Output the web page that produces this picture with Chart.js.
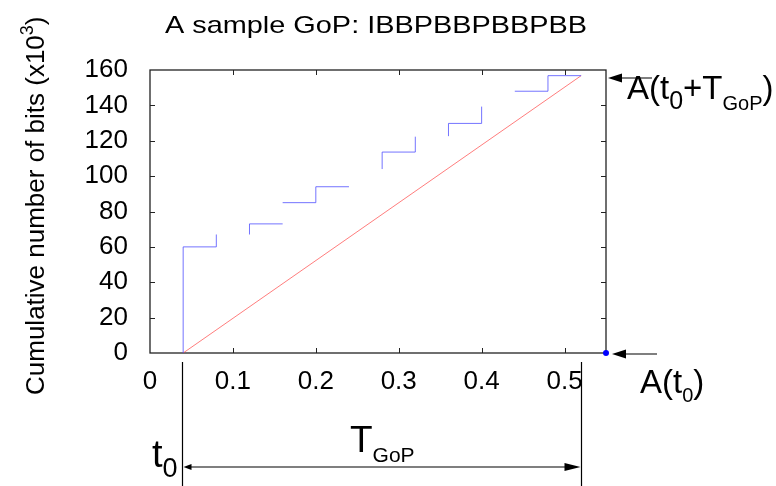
<!DOCTYPE html>
<html>
<head>
<meta charset="utf-8">
<script src="https://cdn.jsdelivr.net/npm/chart.js@4.4.1/dist/chart.umd.min.js"></script>
<style>
  html, body { margin: 0; padding: 0; background: #fff; }
  canvas { display: block; }
</style>
</head>
<body>
<canvas id="chart" width="776" height="486"></canvas>
<script>
// tick values
const xTicks = [0, 0.1, 0.2, 0.3, 0.4, 0.5];
const yTicks = [0, 20, 40, 60, 80, 100, 120, 140, 160];

// cumulative bits staircase (null = break in the trace)
const stepX = [0.04, 0.04, 0.08, 0.08, null, 0.12, 0.12, 0.16, null, 0.16, 0.20, 0.20, 0.24, null,
  0.28, 0.28, 0.32, 0.32, null, 0.36, 0.36, 0.40, 0.40, null, 0.44, 0.48, 0.48, 0.52];
const stepY = [0, 60, 60, 67, null, 67, 73, 73, null, 85, 85, 94, 94, null,
  104, 113.6, 113.6, 122.3, null, 122.6, 129.8, 129.8, 139.3, null, 148, 148, 156.8, 156.8];

// constant-rate line from A(t0) to A(t0+TGoP)
const rateX = [0.04, 0.52];
const rateY = [0, 156.8];

// marker at the right end of the axis
const dotX = [0.55];
const dotY = [0];

const toPoints = (xs, ys) => xs.map((v, i) => ({ x: v, y: ys[i] }));

const FONT = "'Liberation Sans', Arial, sans-serif";

// draw a run of text pieces, some as sub/superscript
const drawParts = (ctx, parts, x, y) => {
  let cx = x;
  parts.forEach((p) => {
    ctx.font = p.size + "px " + FONT;
    ctx.fillText(p.t, cx, y + (p.dy || 0));
    cx += ctx.measureText(p.t).width;
  });
};

const arrowHead = (ctx, x, y, dir, len, hw) => {
  ctx.beginPath();
  ctx.moveTo(x, y);
  ctx.lineTo(x - dir * len, y - hw);
  ctx.lineTo(x - dir * len, y + hw);
  ctx.closePath();
  ctx.fill();
};

const framePlugin = {
  id: "frame",
  beforeDatasetsDraw(chart) {
    const { ctx, chartArea: a, scales } = chart;
    ctx.save();
    ctx.strokeStyle = "#222";
    ctx.lineWidth = 1.3;
    ctx.strokeRect(a.left, a.top, a.right - a.left, a.bottom - a.top);
    ctx.lineWidth = 1;
    ctx.beginPath();
    xTicks.forEach((v) => {
      const px = Math.round(scales.x.getPixelForValue(v)) + 0.5;
      if (px <= a.left + 1) return;
      ctx.moveTo(px, a.bottom); ctx.lineTo(px, a.bottom - 5);
      ctx.moveTo(px, a.top); ctx.lineTo(px, a.top + 5);
    });
    yTicks.forEach((v) => {
      const py = Math.round(scales.y.getPixelForValue(v)) + 0.5;
      if (py <= a.top + 1 || py >= a.bottom - 1) return;
      ctx.moveTo(a.left, py); ctx.lineTo(a.left + 5, py);
      ctx.moveTo(a.right, py); ctx.lineTo(a.right - 5, py);
    });
    ctx.stroke();
    ctx.restore();
  },
  afterDraw(chart) {
    const { ctx, chartArea: a, scales } = chart;
    ctx.save();
    ctx.fillStyle = "#000";
    ctx.strokeStyle = "#000";
    ctx.textBaseline = "alphabetic";

    // title, stretched a little wider like the original
    ctx.font = "24px " + FONT;
    const title = "A sample GoP: IBBPBBPBBPBB";
    const tw = ctx.measureText(title).width;
    ctx.save();
    ctx.translate(165, 33);
    ctx.scale(422 / tw, 1);
    ctx.fillText(title, 0, 0);
    ctx.restore();

    // y axis title with superscript
    ctx.save();
    ctx.translate(44, 395);
    ctx.rotate(-Math.PI / 2);
    drawParts(ctx, [
      { t: "Cumulative number of bits (x10", size: 26 },
      { t: "3", size: 18, dy: -11 },
      { t: ")", size: 26 },
    ], 0, 0);
    ctx.restore();

    // arrows pointing at the axis on the right
    ctx.lineWidth = 1.2;
    ctx.beginPath();
    ctx.moveTo(652, 78); ctx.lineTo(615, 78);
    ctx.moveTo(657, 354); ctx.lineTo(620, 354);
    ctx.stroke();
    arrowHead(ctx, 608, 78, -1, 14, 4.5);
    arrowHead(ctx, 612, 354, -1, 14, 4.5);

    drawParts(ctx, [
      { t: "A(t", size: 33 },
      { t: "0", size: 25, dy: 10 },
      { t: "+T", size: 33 },
      { t: "GoP", size: 20, dy: 11 },
      { t: ")", size: 33 },
    ], 627, 99);

    drawParts(ctx, [
      { t: "A(t", size: 33 },
      { t: "0", size: 20, dy: 9 },
      { t: ")", size: 33 },
    ], 640, 393);

    // GoP span below the axis
    const x0 = Math.round(scales.x.getPixelForValue(rateX[0])) - 0.5;
    const x1 = Math.round(scales.x.getPixelForValue(rateX[1])) + 0.5;
    ctx.lineWidth = 1.2;
    ctx.beginPath();
    ctx.moveTo(x0, 362); ctx.lineTo(x0, 486);
    ctx.moveTo(x1, 362); ctx.lineTo(x1, 486);
    ctx.moveTo(x0 + 4, 467); ctx.lineTo(x1 - 10, 467);
    ctx.stroke();
    arrowHead(ctx, x0 + 1, 467, -1, 8, 3);
    arrowHead(ctx, x1 - 1, 467, 1, 16, 4);

    drawParts(ctx, [
      { t: "t", size: 38 },
      { t: "0", size: 27, dy: 10 },
    ], 152, 467);

    drawParts(ctx, [
      { t: "T", size: 37 },
      { t: "GoP", size: 21, dy: 10 },
    ], 350, 452);

    ctx.restore();
  },
};

new Chart(document.getElementById("chart"), {
  type: "scatter",
  data: {
    datasets: [
      {
        data: toPoints(stepX, stepY),
        showLine: true,
        borderColor: "rgba(70,70,255,0.75)",
        borderWidth: 1,
        pointRadius: 0,
        spanGaps: false,
      },
      {
        data: toPoints(rateX, rateY),
        showLine: true,
        borderColor: "rgba(255,70,70,0.7)",
        borderWidth: 1,
        pointRadius: 0,
      },
      {
        data: toPoints(dotX, dotY),
        pointRadius: 3,
        pointBackgroundColor: "#0000ff",
        pointBorderWidth: 0,
        clip: false,
      },
    ],
  },
  options: {
    responsive: false,
    animation: false,
    layout: { padding: { top: 70, right: 170, left: 0, bottom: 0 } },
    plugins: { legend: { display: false }, tooltip: { enabled: false } },
    scales: {
      x: {
        type: "linear",
        min: 0,
        max: 0.55,
        afterBuildTicks: (s) => { s.ticks = xTicks.map((v) => ({ value: v })); },
        afterFit: (s) => { s.height = 133; },
        grid: { display: false, drawTicks: false },
        border: { display: false },
        ticks: {
          color: "#000",
          padding: 13,
          maxRotation: 0,
          font: { family: FONT, size: 26 },
          callback: (v) => String(v),
        },
      },
      y: {
        min: 0,
        max: 160,
        afterBuildTicks: (s) => { s.ticks = yTicks.map((v) => ({ value: v })); },
        afterFit: (s) => { s.width = 150; },
        grid: { display: false, drawTicks: false },
        border: { display: false },
        ticks: {
          color: "#000",
          padding: 22,
          font: { family: FONT, size: 26 },
        },
      },
    },
  },
  plugins: [framePlugin],
});
</script>
</body>
</html>
